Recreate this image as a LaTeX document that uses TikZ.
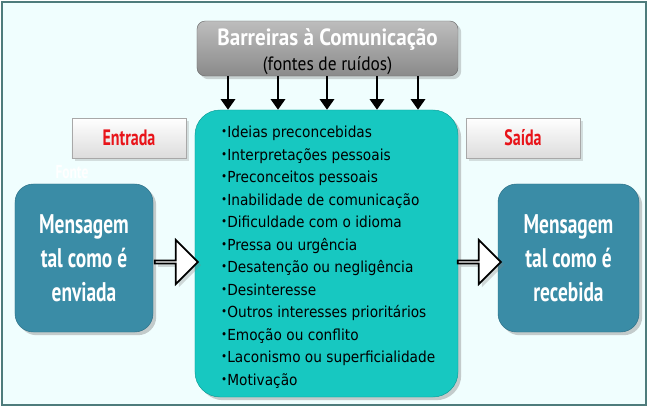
\documentclass[tikz,border=0pt]{standalone}
\usepackage{fontspec}
\setmainfont{DejaVu Sans}
\newfontfamily\condfont[FakeStretch=0.72]{PT Sans}
\newfontfamily\titlefont[FakeStretch=0.9]{PT Sans}
\newfontfamily\listfont[FakeStretch=0.9]{DejaVu Sans}
\usetikzlibrary{shapes.arrows, arrows.meta, positioning, shadows}
\usepackage{xcolor}
\definecolor{FrameLine}{HTML}{4E7C7C}
\definecolor{PageBg}{HTML}{F0FEFE}
\definecolor{NoiseTop}{HTML}{BDBDBD}
\definecolor{NoiseBottom}{HTML}{8A8A8A}
\definecolor{NoiseEdge}{HTML}{6E6E6E}
\definecolor{FilterTeal}{HTML}{17C8C1}
\definecolor{FilterEdge}{HTML}{0E9C96}
\definecolor{MsgBlue}{HTML}{3A8CA6}
\definecolor{MsgEdge}{HTML}{2C6F86}
\definecolor{TagGray}{HTML}{DCDCDC}
\definecolor{TagEdge}{HTML}{A8A8A8}
\definecolor{LabelRed}{HTML}{E8141A}
\newcommand{\dotitem}{\raisebox{.25ex}{\scalebox{.75}{\textbullet}}}

\begin{document}
\begin{tikzpicture}[
    x=0.03cm, y=0.03cm,
    noisebox/.style={rectangle, rounded corners=7pt, draw=NoiseEdge, top color=NoiseTop, bottom color=NoiseBottom, minimum width=7.83cm, minimum height=1.65cm, drop shadow={opacity=0.35}},
    filterbox/.style={rectangle, rounded corners=0.75cm, draw=FilterEdge, fill=FilterTeal, minimum width=7.89cm, minimum height=8.61cm, drop shadow={opacity=0.4}},
    msgbox/.style={rectangle, rounded corners=0.55cm, draw=MsgEdge, fill=MsgBlue, minimum width=4.14cm, minimum height=4.44cm, align=center, text=white, font=\condfont\bfseries\fontsize{23}{29}\selectfont, drop shadow={opacity=0.4}},
    tagbox/.style={rectangle, draw=TagEdge, top color=white, bottom color=TagGray, minimum width=3.42cm, minimum height=1.2cm, text=LabelRed, font=\condfont\bfseries\fontsize{19}{21}\selectfont, drop shadow={opacity=0.25}},
    blockarrow/.style={single arrow, draw=black, line width=1.5pt, fill=white, minimum height=1.29cm, minimum width=1.32cm, single arrow head extend=0.345cm, inner sep=0pt, drop shadow={opacity=0.3}},
    noisearrow/.style={-{Triangle[length=9pt,width=12pt]}, line width=2.2pt}
  ]
  \useasboundingbox (0,0) rectangle (650,409);
  \draw[FrameLine, line width=1.8pt, fill=PageBg] (2,4) rectangle (646,407);

  % noise sources on top
  \node[noisebox] (noise) at (327.5,360.5) {};
  \node[text=white, font=\titlefont\bfseries\fontsize{20}{22}\selectfont] (noisetitle) at (327.5,370) {Barreiras à Comunicação};
  \node[font=\titlefont\fontsize{16.5}{18}\selectfont] (noisesub) at (327.5,343) {(fontes de ruídos)};

  % filter with the list of barriers
  \node[filterbox] (filter) at (326.5,155.5) {};
  \node[anchor=north west, align=left, inner sep=0pt, font=\listfont\fontsize{13}{19.2}\selectfont] (barriers) at (221,283) {%
    \dotitem Ideias preconcebidas\\
    \dotitem Interpretações pessoais\\
    \dotitem Preconceitos pessoais\\
    \dotitem Inabilidade de comunicação\\
    \dotitem Dificuldade com o idioma\\
    \dotitem Pressa ou urgência\\
    \dotitem Desatenção ou negligência\\
    \dotitem Desinteresse\\
    \dotitem Outros interesses prioritários\\
    \dotitem Emoção ou conflito\\
    \dotitem Laconismo ou superficialidade\\
    \dotitem Motivação};

  \foreach \x in {228,278,327,377,418}
    \draw[noisearrow] (noise.south -| \x,0) -- (filter.north -| \x,0);

  % sender and receiver
  \node[text=white, font=\condfont\bfseries\fontsize{16}{18}\selectfont] (source) at (72,237) {Fonte};
  \node[msgbox] (sender) at (84,151) {Mensagem\\tal como é\\enviada};
  \node[msgbox, minimum width=4.23cm] (receiver) at (568.5,151) {Mensagem\\tal como é\\recebida};

  \node[tagbox] (input) at (129,271) {Entrada};
  \node[tagbox] (output) at (523,271) {Saída};

  \node[blockarrow] (inflow) at (175.5,147) {};
  \node[blockarrow] (outflow) at (478.5,147) {};
\end{tikzpicture}
\end{document}
